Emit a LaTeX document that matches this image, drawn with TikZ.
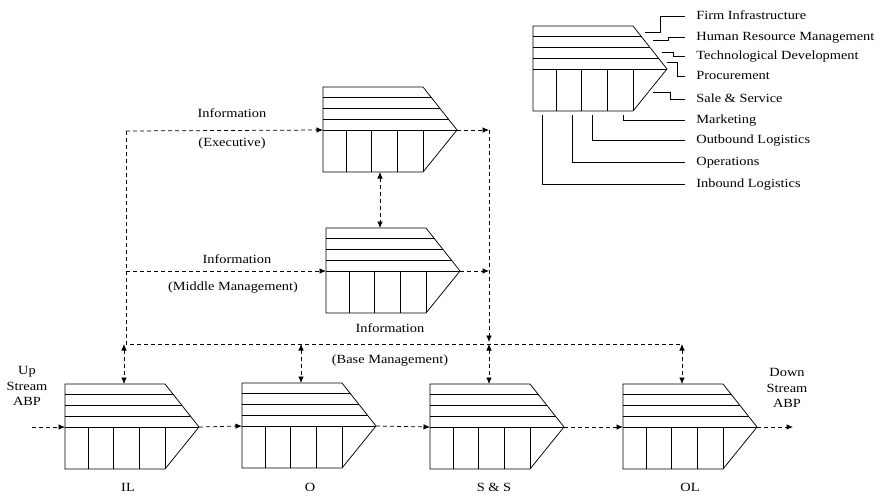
\documentclass[tikz,border=0pt]{standalone}
\usepackage{fontspec}
\setmainfont{Liberation Serif}[FakeStretch=1.15]
\usepackage{tikz}
\usetikzlibrary{arrows.meta}
\newcommand{\valuechain}[3]{\begin{scope}[shift={(#2,#3)}]
					\draw (0,0) -- (100,0) -- (134,43) -- (100,85) -- (0,85) -- cycle;
					\draw (0,43) -- (134,43);
					\foreach \y in {10.75,21.5,32.25}
						\draw (0,\y) -- ({100+34*\y/43},\y);
					\foreach \x in {23,48,74,100}
						\draw (\x,43) -- (\x,85);
					\coordinate (#1-in) at (0,43);
					\coordinate (#1-tip) at (134,43);
					\coordinate (#1-top) at (59,0);
					\coordinate (#1-bot) at (57,85);
					\end{scope}}
\tikzset{dline/.style={dash pattern=on 4pt off 3pt},
	lbl/.style={inner sep=1pt, text height=8.5pt, text depth=2.5pt},
	legendlbl/.style={anchor=west, inner xsep=11pt, inner ysep=1pt, text height=8.5pt, text depth=2.5pt}}

\begin{document}
\begin{tikzpicture}[x=1pt, y=-1pt, line width=0.75pt, >={Latex[length=6.5pt,width=5.5pt]},
	font=\fontsize{12.5}{15.5}\selectfont]

					\useasboundingbox (0,0) rectangle (880,498);

					% legend
					\valuechain{lg}{533}{26}
					\node[legendlbl] (lfirm) at (685,16) {Firm Infrastructure};
					\node[legendlbl] (lhrm) at (685,37) {Human Resource Management};
					\node[legendlbl] (ltech) at (685,56) {Technological Development};
					\node[legendlbl] (lproc) at (685,76) {Procurement};
					\node[legendlbl] (lsale) at (685,99) {Sale \& Service};
					\node[legendlbl] (lmkt) at (685,120) {Marketing};
					\node[legendlbl] (lout) at (685,140) {Outbound Logistics};
					\node[legendlbl] (lops) at (685,162) {Operations};
					\node[legendlbl] (lin) at (685,184) {Inbound Logistics};

					\coordinate (p-firm) at (645,32);
					\coordinate (p-hrm) at (653,40);
					\coordinate (p-tech) at (662,52);
					\coordinate (p-proc) at (667,62);
					\coordinate (p-sale) at (653,92);
					\coordinate (p-mkt) at (623,115);
					\coordinate (p-out) at (592,115);
					\coordinate (p-ops) at (572,115);
					\coordinate (p-in) at (542,115);

					\draw (p-firm) -- ++(15,0) |- (lfirm.west);
					\draw (p-hrm) -- ++(15,0) |- (lhrm.west);
					\draw (p-tech) -- ++(11,0) |- (ltech.west);
					\draw (p-proc) -- ++(10,0) |- (lproc.west);
					\draw (p-sale) -- ++(17,0) |- (lsale.west);
					\draw (p-mkt) |- (lmkt.west);
					\draw (p-out) |- (lout.west);
					\draw (p-ops) |- (lops.west);
					\draw (p-in) |- (lin.west);

					% management levels
					\valuechain{exec}{323}{87}
					\valuechain{mid}{326}{228}

					% primary activities
					\valuechain{il}{65}{384}
					\valuechain{o}{242}{383}
					\valuechain{ss}{430}{384}
					\valuechain{ol}{623}{384}

					% labels
					\node[lbl] (infoexec) at (232,114) {Information};
					\node[lbl] (execlbl) at (232,143) {(Executive)};
					\node[lbl] (infomid) at (237,260) {Information};
					\node[lbl] (midlbl) at (233,287) {(Middle Management)};
					\node[lbl] (infobase) at (390,329) {Information};
					\node[lbl] (baselbl) at (390,360) {(Base Management)};
					\node[align=center, inner sep=1pt] (upstream) at (27,386) {Up\\Stream\\ABP};
					\node[align=center, inner sep=1pt] (downstream) at (787,388) {Down\\Stream\\ABP};
					\node[lbl] (illbl) at (128,488) {IL};
					\node[lbl] (olbl) at (310,488) {O};
					\node[lbl] (sslbl) at (494,488) {S \& S};
					\node[lbl] (ollbl) at (690,488) {OL};

					% information flow
					\coordinate (lefttop) at (126,131);
					\coordinate (leftbase) at (126,344);
					\coordinate (rightbase) at (680,344);
					\coordinate (righttop) at (ss-top |- exec-in);
					\coordinate (upin) at (32,427);
					\coordinate (downout) at (793,427);

					\draw[dline] (lefttop) -- (leftbase) -- (rightbase);
					\draw[dline,->] (lefttop) -- (exec-in);
					\draw[dline,->] (lefttop |- mid-in) -- (mid-in);
					\draw[dline,->] (exec-tip) -- (righttop);
					\draw[dline,->] (mid-tip) -- (mid-tip -| righttop);
					\draw[dline,->] (righttop) -- ([yshift=2]righttop |- leftbase);
					\draw[dline,<->] (exec-bot) -- (exec-bot |- mid-top);

					\draw[dline,<->] (il-top |- leftbase) -- (il-top);
					\draw[dline,<->] (o-top |- leftbase) -- (o-top);
					\draw[dline,<->] (ss-top |- leftbase) -- (ss-top);
					\draw[dline,<->] (ol-top |- leftbase) -- (ol-top);

					% value chain flow
					\draw[dline,->] (upin) -- (il-in);
					\draw[dline,->] (il-tip) -- (o-in);
					\draw[dline,->] (o-tip) -- (ss-in);
					\draw[dline,->] (ss-tip) -- (ol-in);
					\draw[dline,->] (ol-tip) -- (downout);

\end{tikzpicture}
\end{document}
